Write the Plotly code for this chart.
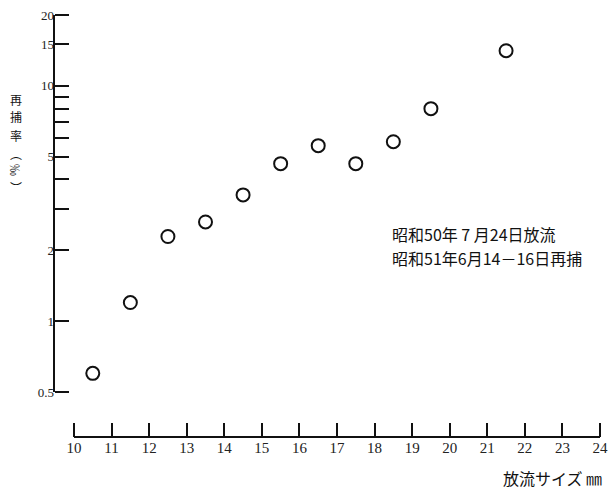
import plotly.graph_objects as go
import math

# ---- data ----
release_size_mm = [10.5, 11.5, 12.5, 13.5, 14.5, 15.5, 16.5, 17.5, 18.5, 19.5, 21.5]
recapture_rate_permil = [0.60, 1.20, 2.29, 2.64, 3.44, 4.67, 5.57, 4.67, 5.79, 8.0, 14.1]

x_ticks = list(range(10, 25))
y_tick_vals = [0.5, 1, 2, 3, 4, 5, 6, 7, 8, 9, 10, 15, 20]
y_tick_text = ["0.5", "1", "2", "", "", "5", "", "", "", "", "10", "15", "20"]
note_lines = ["昭和50年 7 月24日放流", "昭和51年6月14－16日再捕"]
y_title_chars = ["再", "捕", "率", "︵", "‰", "︶"]
x_title = "放流サイズ ㎜"

W, H = 609, 492
ML, MR, MT, MB = 50, 2, 8, 50
PW, PH = W - ML - MR, H - MT - MB

serif = "Liberation Serif, DejaVu Serif, serif"
cjk = "Noto Sans CJK JP, Noto Sans CJK SC, sans-serif"
ink = "#111"


def px_x(px):
    return (px - ML) / PW


def px_y(py):
    return (MT + PH - py) / PH


# x scale: 10 -> 74 px, 24 -> 600 px  (range padded so end ticks are drawn)
XPAD = 0.08
X0, X1 = 10 - XPAD, 24 + XPAD
ppu = (600 - 74) / 14
x_left_px = 74 - XPAD * ppu
x_right_px = 600 + XPAD * ppu

# y scale (log): 0.5 -> 392 px, 20 -> 15 px
YPAD = 0.012
Y0, Y1 = math.log10(0.5) - YPAD, math.log10(20) + YPAD
ppd = (392 - 15) / (math.log10(20) - math.log10(0.5))
y_bot_px = 392 + YPAD * ppd
y_top_px = 15 - YPAD * ppd

fig = go.Figure()
fig.add_trace(go.Scatter(
    x=release_size_mm, y=recapture_rate_permil, mode="markers",
    marker=dict(symbol="circle-open", size=13, color=ink, line=dict(width=2, color=ink)),
    cliponaxis=False, showlegend=False, hoverinfo="skip",
))

fig.update_layout(
    width=W, height=H,
    margin=dict(l=ML, r=MR, t=MT, b=MB),
    paper_bgcolor="white", plot_bgcolor="white",
    xaxis=dict(
        range=[X0, X1], domain=[px_x(x_left_px), px_x(x_right_px)],
        anchor="free", position=px_y(437),
        tickvals=x_ticks, ticktext=[str(t) for t in x_ticks],
        ticks="inside", ticklen=14, tickwidth=2, tickcolor=ink,
        showline=False, showgrid=False, zeroline=False, automargin=False,
        tickfont=dict(family=serif, size=15, color="#222"),
    ),
    yaxis=dict(
        type="log", range=[Y0, Y1],
        domain=[px_y(y_bot_px), px_y(y_top_px)],
        anchor="free", position=px_x(54),
        tickvals=y_tick_vals, ticktext=y_tick_text,
        ticks="inside", ticklen=14, tickwidth=2, tickcolor=ink,
        showline=False, showgrid=False, zeroline=False, automargin=False,
        tickfont=dict(family=serif, size=13, color="#222"),
    ),
)

# axis lines spanning exactly the labelled range
fig.add_shape(type="line", xref="x", yref="paper", x0=10, x1=24,
              y0=px_y(437), y1=px_y(437), line=dict(color=ink, width=2))
fig.add_shape(type="line", xref="paper", yref="y", x0=px_x(54), x1=px_x(54),
              y0=0.5, y1=20, line=dict(color=ink, width=2))

# note text
for line_text, yp in zip(note_lines, [234, 258]):
    fig.add_annotation(
        x=px_x(390), y=px_y(yp), xref="paper", yref="paper",
        xanchor="left", yanchor="middle", align="left", showarrow=False,
        text=line_text, font=dict(family=cjk, size=16, color=ink),
    )

# vertical y title
y_pos = [99, 117, 135, 153, 170, 187]
for ch, yp in zip(y_title_chars, y_pos):
    fig.add_annotation(
        x=px_x(16), y=px_y(yp), xref="paper", yref="paper",
        xanchor="center", yanchor="middle", showarrow=False, text=ch,
        textangle=90 if ch == "‰" else 0,
        font=dict(family=cjk, size=12, color=ink),
    )

# x title
fig.add_annotation(
    x=px_x(604), y=px_y(478), xref="paper", yref="paper",
    xanchor="right", yanchor="middle", showarrow=False, text=x_title,
    font=dict(family=cjk, size=16, color=ink),
)

fig.write_html(
    "out.html",
    config={"displayModeBar": False},
    post_script="document.body.style.margin='0';document.body.style.overflow='hidden';",
)
